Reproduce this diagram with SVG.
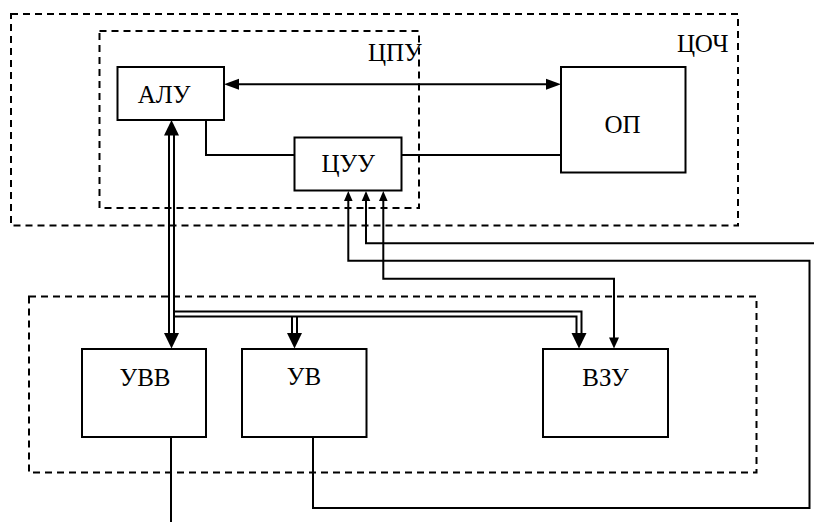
<svg xmlns="http://www.w3.org/2000/svg" width="814" height="523" viewBox="0 0 814 523">
<defs>
<style>
.box{fill:#fff;stroke:#000;stroke-width:2}
.dash{fill:none;stroke:#000;stroke-width:2;stroke-dasharray:7 5}
.ln{fill:none;stroke:#000;stroke-width:2}
.ah{fill:#000;stroke:none}
text{font-family:"Liberation Serif","Times New Roman",serif;font-size:25px;fill:#000}
.c{text-anchor:middle}
</style>
</defs>
<rect width="814" height="523" fill="#fff"/>
<g id="groups">
<rect id="TSOCh" class="dash" x="11" y="14" width="727" height="211.5"/>
<text x="677" y="52">ЦОЧ</text>
<rect id="TsPU" class="dash" x="99.5" y="31" width="319.5" height="177"/>
<text x="368" y="61">ЦПУ</text>
<rect id="periph" class="dash" x="29" y="296.5" width="727.5" height="176"/>
</g>
<g id="connectors">
<!-- ALU <-> OP -->
<line class="ln" x1="236" y1="84.3" x2="549" y2="84.3"/>
<polygon class="ah" points="224,84.3 239,78.8 239,89.8"/>
<polygon class="ah" points="561,84.3 546,78.8 546,89.8"/>
<!-- ALU - TsUU -->
<polyline class="ln" points="206,120 206,155 294,155"/>
<!-- TsUU - OP -->
<line class="ln" x1="402" y1="155" x2="561" y2="155"/>
<!-- TsUU inputs -->
<polyline class="ln" points="313,437 313,508 809.5,508 809.5,260.7 348.3,260.7 348.3,199"/>
<polygon class="ah" points="348.3,191 344,201 352.6,201"/>
<polyline class="ln" points="814,243.3 366,243.3 366,199"/>
<polygon class="ah" points="366,191 361.7,201 370.3,201"/>
<polyline class="ln" points="383.3,199 383.3,278.7 614,278.7 614,339"/>
<polygon class="ah" points="383.3,191 379,201 387.6,201"/>
<polygon class="ah" points="614,348.5 609,337.5 619,337.5"/>
<!-- ALU <-> UVV double -->
<line class="ln" x1="169" y1="133" x2="169" y2="336"/>
<line class="ln" x1="174" y1="133" x2="174" y2="336"/>
<polygon class="ah" points="171.5,120 164,135.5 179,135.5"/>
<polygon class="ah" points="171.5,348.5 164,333 179,333"/>
<!-- bus -->
<polyline class="ln" points="174,311.5 581.5,311.5 581.5,336"/>
<polyline class="ln" points="174,316.5 576.5,316.5 576.5,336"/>
<polygon class="ah" points="579,348.5 571.5,333 586.5,333"/>
<line class="ln" x1="292" y1="316.5" x2="292" y2="336"/>
<line class="ln" x1="297" y1="316.5" x2="297" y2="336"/>
<polygon class="ah" points="294.5,348.5 287,333 302,333"/>
<!-- UVV out -->
<line class="ln" x1="171" y1="437" x2="171" y2="522"/>
</g>
<g id="ALU"><rect class="box" x="117.5" y="67" width="106.5" height="53"/><text class="c" x="164" y="102.5">АЛУ</text></g>
<g id="TsUU"><rect class="box" x="294.5" y="137.5" width="107" height="53"/><text class="c" x="348.3" y="171.5">ЦУУ</text></g>
<g id="OP"><rect class="box" x="561" y="67" width="124.5" height="105.5"/><text class="c" x="622.5" y="133">ОП</text></g>
<g id="UVV"><rect class="box" x="82" y="349" width="124" height="88"/><text class="c" x="145" y="386">УВВ</text></g>
<g id="UV"><rect class="box" x="242" y="349" width="124.5" height="88"/><text class="c" x="304" y="385">УВ</text></g>
<g id="VZU"><rect class="box" x="543" y="349" width="125" height="88"/><text class="c" x="605.5" y="386">ВЗУ</text></g>
</svg>
